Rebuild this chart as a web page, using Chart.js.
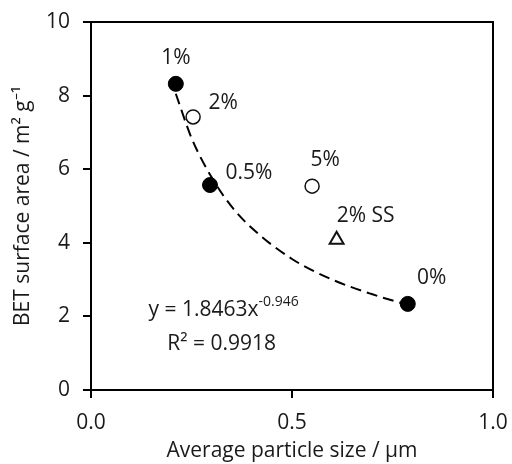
<!DOCTYPE html>
<html>
<head>
<meta charset="utf-8">
<script src="https://cdn.jsdelivr.net/npm/chart.js@4/dist/chart.umd.min.js"></script>
<style>
  html,body{margin:0;padding:0;background:#fff;}
  #wrap{width:512px;height:464px;}
</style>
</head>
<body>
<div id="wrap"><canvas id="c" width="512" height="464"></canvas></div>
<script>
const filledX = [0.211, 0.296, 0.788];
const filledY = [8.32, 5.57, 2.34];
const filledLabels = ['1%', '0.5%', '0%'];

const openX = [0.254, 0.550];
const openY = [7.42, 5.54];
const openLabels = ['2%', '5%'];

const ssX = [0.611];
const ssY = [4.08];
const ssLabels = ['2% SS'];

// dashed power trendline
const fitX = [0.211, 0.25, 0.30, 0.35, 0.40, 0.50, 0.60, 0.70, 0.788];
const fitY = [8.05, 6.85, 5.78, 4.98, 4.40, 3.56, 3.00, 2.60, 2.31];

const xTicks = [0.0, 0.5, 1.0];
const yTicks = [0, 2, 4, 6, 8, 10];

const FONT = '"Open Sans"';
const FS = 21;
const TXT = '#1a1a1a';
const pts = (xs, ys) => xs.map((x, i) => ({x, y: ys[i]}));

// label offsets in px relative to the marker
const labelOffsets = {
  filled: [[0, -26], [39, -12], [24, -26]],
  open: [[30, -14], [13, -26]],
  ss: [[29, -24]]
};

const pointLabels = {
  id: 'pointLabels',
  afterDatasetsDraw(chart){
    const {ctx, scales:{x, y}} = chart;
    ctx.save();
    ctx.font = FS + 'px ' + FONT;
    ctx.fillStyle = TXT;
    ctx.textAlign = 'center';
    ctx.textBaseline = 'middle';
    const draw = (xs, ys, labels, offs) => {
      labels.forEach((t, i) => {
        ctx.fillText(t, x.getPixelForValue(xs[i]) + offs[i][0], y.getPixelForValue(ys[i]) + offs[i][1]);
      });
    };
    draw(filledX, filledY, filledLabels, labelOffsets.filled);
    draw(openX, openY, openLabels, labelOffsets.open);
    draw(ssX, ssY, ssLabels, labelOffsets.ss);

    // equation
    const ex = x.getPixelForValue(0.330), ey = y.getPixelForValue(2.18);
    const main = 'y = 1.8463x', sup = '-0.946';
    ctx.font = FS + 'px ' + FONT;
    const w1 = ctx.measureText(main).width;
    ctx.font = '14px ' + FONT;
    const w2 = ctx.measureText(sup).width;
    const sx = ex - (w1 + w2) / 2;
    ctx.textAlign = 'left';
    ctx.font = FS + 'px ' + FONT;
    ctx.fillText(main, sx, ey);
    ctx.font = '14px ' + FONT;
    ctx.fillText(sup, sx + w1, ey - 8);
    ctx.font = FS + 'px ' + FONT;
    ctx.textAlign = 'center';
    ctx.fillText('R² = 0.9918', x.getPixelForValue(0.325), y.getPixelForValue(1.25));
    ctx.restore();
  }
};

new Chart(document.getElementById('c'), {
  type: 'scatter',
  data: {
    datasets: [
      {
        label: 'fit', data: pts(fitX, fitY), showLine: true,
        borderColor: '#000', borderWidth: 2, borderDash: [11, 6],
        pointRadius: 0, cubicInterpolationMode: 'monotone', order: 3
      },
      {
        label: 'filled', data: pts(filledX, filledY),
        pointRadius: 7.5, backgroundColor: '#000', borderColor: '#000', borderWidth: 1, order: 1
      },
      {
        label: 'open', data: pts(openX, openY),
        pointRadius: 7, backgroundColor: '#fff', borderColor: '#111', borderWidth: 1.5, order: 1
      },
      {
        label: 'ss', data: pts(ssX, ssY), pointStyle: 'triangle',
        pointRadius: 8, backgroundColor: '#fff', borderColor: '#111', borderWidth: 2, order: 1
      }
    ]
  },
  options: {
    responsive: false, animation: false,
    layout: {padding: {top: 22, right: 19, left: 0, bottom: 0}},
    plugins: {legend: {display: false}, tooltip: {enabled: false}},
    scales: {
      x: {
        type: 'linear', min: 0, max: 1,
        afterBuildTicks: s => { s.ticks = xTicks.map(v => ({value: v})); },
        afterFit: s => { s.height = 74; s.paddingLeft = 0; s.paddingRight = 0; },
        grid: {drawOnChartArea: false, drawTicks: true, tickLength: 8, color: '#000', lineWidth: 2},
        border: {display: true, color: '#000', width: 2},
        ticks: {color: TXT, font: {family: FONT, size: FS}, padding: 12, callback: v => v.toFixed(1)},
        title: {display: true, text: 'Average particle size / µm', color: TXT, font: {family: FONT, size: FS}, padding: {top: 0, bottom: 0}}
      },
      y: {
        type: 'linear', min: 0, max: 10,
        afterBuildTicks: s => { s.ticks = yTicks.map(v => ({value: v})); },
        afterFit: s => { s.width = 91; s.paddingTop = 0; s.paddingBottom = 0; },
        grid: {drawOnChartArea: false, drawTicks: true, tickLength: 8, color: '#000', lineWidth: 2},
        border: {display: true, color: '#000', width: 2},
        ticks: {color: TXT, font: {family: FONT, size: FS}, padding: 13},
        title: {display: true, text: 'BET surface area / m² g⁻¹', color: TXT, font: {family: FONT, size: FS}, padding: {top: 10, bottom: 0}}
      },
      x2: {
        type: 'linear', position: 'top', min: 0, max: 1,
        afterFit: s => { s.height = 0; },
        grid: {display: false}, ticks: {display: false},
        border: {display: true, color: '#000', width: 2}
      },
      y2: {
        type: 'linear', position: 'right', min: 0, max: 10,
        afterFit: s => { s.width = 0; },
        grid: {display: false}, ticks: {display: false},
        border: {display: true, color: '#000', width: 2}
      }
    }
  },
  plugins: [pointLabels]
});
</script>
</body>
</html>
